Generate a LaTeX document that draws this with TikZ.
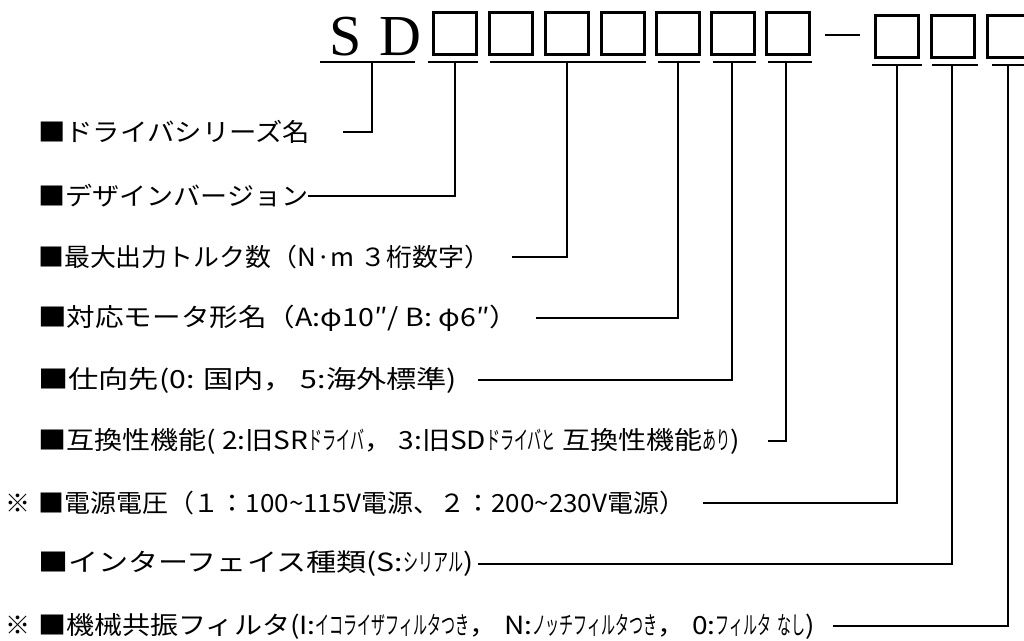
\documentclass[tikz,border=0pt]{standalone}
\usepackage{fontspec}
\setmainfont{Noto Sans CJK JP}
\newfontfamily\jp{Noto Sans CJK JP}
\newfontfamily\sdfont{Liberation Serif}
\newcommand{\fitrow}[2]{\resizebox{#1pt}{\height}{#2}}
\newcommand{\hw}[1]{\scalebox{0.5}[1]{#1}}
\begin{document}
\begin{tikzpicture}[x=1pt,y=-1pt,
  codebox/.style={draw, line width=2.4pt, minimum width=43pt, minimum height=42pt, inner sep=0pt, outer sep=0pt},
  lbl/.style={anchor=west, inner sep=0pt, font=\jp\fontsize{25}{27}\selectfont},
  conn/.style={line width=1.8pt},
  uline/.style={line width=2.2pt}]
\useasboundingbox (0,0) rectangle (1024,640);
\clip (0,0) rectangle (1024,640);
% model code
\node[anchor=base, font=\sdfont\fontsize{58}{58}\selectfont, inner sep=0pt] (S) at (346,55) {S};
\node[anchor=base, font=\sdfont\fontsize{58}{58}\selectfont, inner sep=0pt] (D) at (400,55) {D};
\foreach \n/\x in {1/455,2/511,3/567,4/623,5/678,6/733,7/788}
  \node[codebox] (b\n) at (\x,33.5) {};
\foreach \n/\x in {8/897,9/953,10/1009}
  \node[codebox] (b\n) at (\x,36.5) {};
\coordinate (da) at (825,35); \coordinate (db) at (860,35);
\draw[line width=2.6pt] (da) -- (db);
% underlines
\foreach \n/\a/\b/\t/\y in {0/320/415/372/62, 1/428/478/455/62, 2/490/646/567/62, 3/658/700/678/62, 4/713/756/732/62, 5/768/812/786/62, 6/872/922/897/65, 7/932/978/952/65, 8/992/1030/1008/65}{
  \coordinate (ua\n) at (\a,\y);
  \coordinate (ub\n) at (\b,\y);
  \coordinate (t\n) at (\t,\y);
  \draw[uline] (ua\n) -- (ub\n);
}
% labels
\node[lbl] (r0) at (38,132) {\fitrow{272}{■ドライバシリーズ名}};
\node[lbl] (r1) at (38,196) {\fitrow{270}{■デザインバージョン}};
\node[lbl] (r2) at (38,257) {\fitrow{452}{■最大出力トルク数（N·m ３桁数字）}};
\node[lbl] (r3) at (38,318) {\fitrow{480}{■対応モータ形名（A:φ10″/ B: φ6″）}};
\node[lbl] (r4) at (38,380) {\fitrow{419}{■仕向先(0: 国内， 5:海外標準)}};
\node[lbl] (r5) at (38,441) {\fitrow{702}{■互換性機能( 2:旧SR\hw{ドライバ}， 3:旧SD\hw{ドライバと} 互換性機能\hw{あり})}};
\node[lbl] (r6) at (38,503) {\llap{※\hspace{8pt}}\fitrow{647}{■電源電圧（１：100\textasciitilde 115V電源、２：200\textasciitilde 230V電源）}};
\node[lbl] (r7) at (38,564) {\fitrow{435}{■インターフェイス種類(S:\hw{シリアル})}};
\node[lbl] (r8) at (38,626) {\llap{※\hspace{8pt}}\fitrow{777}{■機械共振フィルタ(I:\hw{イコライザフィルタつき}， N:\hw{ノッチフィルタつき}， 0:\hw{フィルタ} \hw{なし})}};
% connectors
\foreach \n/\g in {0/33,1/0,2/22,3/18,4/21,5/28,6/18,7/5,8/18}
  \draw[conn] ([xshift=\g pt]r\n.east) -| (t\n);
\end{tikzpicture}
\end{document}
